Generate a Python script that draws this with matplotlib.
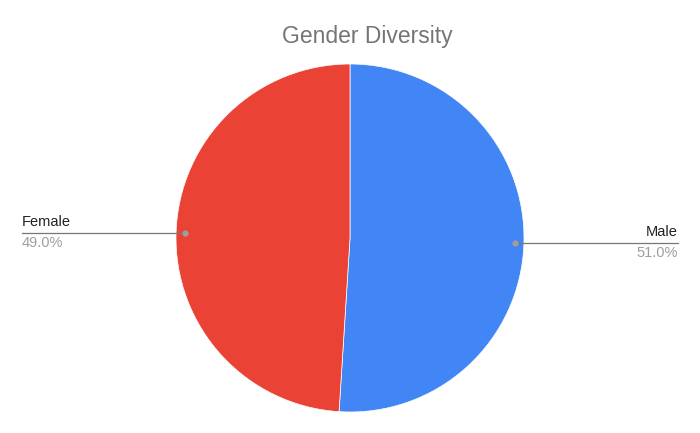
import numpy as np
import matplotlib
matplotlib.use('Agg')
import matplotlib.pyplot as plt

# --- Data --------------------------------------------------------------------
labels = ['Male', 'Female']
shares = [51.0, 49.0]
colors = ['#4285F4', '#EA4335']
title = 'Gender Diversity'

plt.rcParams['font.family'] = ['Liberation Sans', 'DejaVu Sans']

W, H = 700, 433
fig = plt.figure(figsize=(7, 4.33), dpi=100)
ax = fig.add_axes([0, 0, 1, 1])

cx, cy, R = 350, H - 238, 174
wedges, _ = ax.pie(shares, colors=colors, startangle=90, counterclock=False,
                   center=(cx, cy), radius=R, frame=True,
                   wedgeprops=dict(edgecolor='white', linewidth=0.5))
ax.set_xlim(0, W)
ax.set_ylim(0, H)
ax.set_aspect('equal')
ax.axis('off')

# leader lines with labels
for w, lab, val in zip(wedges, labels, shares):
    mid = np.deg2rad((w.theta1 + w.theta2) / 2)
    px = cx + 165 * np.cos(mid)
    py = cy + 165 * np.sin(mid)
    if np.cos(mid) < 0:
        x_end, ha = 22, 'left'
    else:
        x_end, ha = 678, 'right'
    ax.plot([px, x_end], [py, py], color='#777777', lw=0.9, zorder=3)
    ax.plot(px, py, 'o', ms=3.5, color='#9e9e9e', zorder=4)
    ax.text(x_end, py + 4, lab, ha=ha, va='bottom', fontsize=10.5, color='#222222')
    ax.text(x_end, py - 3, f'{val:.1f}%', ha=ha, va='top', fontsize=10.5, color='#9e9e9e')

ax.text(cx + 17, H - 37, title, ha='center', va='center', fontsize=16.5, color='#757575')

fig.savefig('out.png', dpi=100)
